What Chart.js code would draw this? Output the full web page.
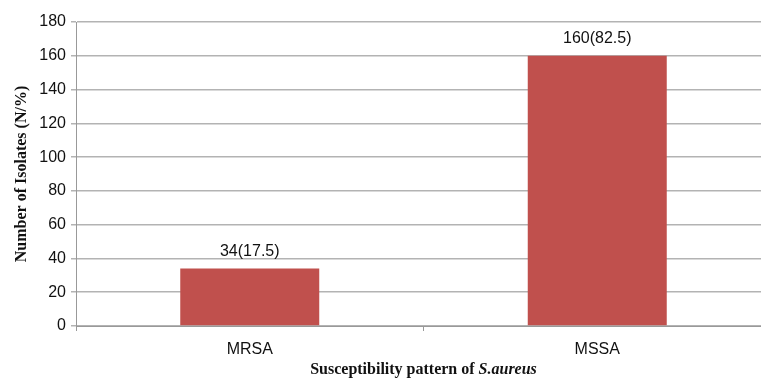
<!DOCTYPE html>
<html><head><meta charset="utf-8">
<script src="https://cdn.jsdelivr.net/npm/chart.js@4/dist/chart.umd.min.js"></script>
<style>
html,body{margin:0;padding:0;background:#fff;overflow:hidden;width:761px;height:382px}
#wrap{position:absolute;left:0;top:0;width:771px;height:382px}
</style></head>
<body>
<div id="wrap"><canvas id="c" width="771" height="382"></canvas></div>
<script>
const categories = ["MRSA", "MSSA"];
const counts = [34, 160];
const percents = [17.5, 82.5];
const yTicks = [0, 20, 40, 60, 80, 100, 120, 140, 160, 180];
const yTitle = "Number of Isolates (N/%)";
const xTitlePlain = "Susceptibility pattern of ";
const xTitleItalic = "S.aureus";

const barLabels = {
  id: 'barLabels',
  afterDatasetsDraw(chart) {
    const ctx = chart.ctx;
    const meta = chart.getDatasetMeta(0);
    ctx.save();
    ctx.font = '16px "Liberation Sans", Arial, sans-serif';
    ctx.fillStyle = '#111';
    ctx.textAlign = 'center';
    ctx.textBaseline = 'middle';
    meta.data.forEach((bar, i) => {
      ctx.fillText(counts[i] + '(' + percents[i] + ')', bar.x, bar.y - 17);
    });
    ctx.restore();
  }
};

const xTitle = {
  id: 'xTitle',
  afterDraw(chart) {
    const ctx = chart.ctx;
    const a = chart.chartArea;
    ctx.save();
    const f1 = 'bold 16px "Liberation Serif", "Times New Roman", serif';
    const f2 = 'italic bold 16px "Liberation Serif", "Times New Roman", serif';
    ctx.font = f1; const w1 = ctx.measureText(xTitlePlain).width;
    ctx.font = f2; const w2 = ctx.measureText(xTitleItalic).width;
    const cx = (a.left + a.right) / 2;
    let x = cx - (w1 + w2) / 2;
    const y = 370;
    ctx.fillStyle = '#111';
    ctx.textBaseline = 'middle';
    ctx.textAlign = 'left';
    ctx.font = f1; ctx.fillText(xTitlePlain, x, y);
    ctx.font = f2; ctx.fillText(xTitleItalic, x + w1, y);
    ctx.restore();
  }
};

new Chart(document.getElementById('c'), {
  type: 'bar',
  data: {
    labels: categories,
    datasets: [{
      data: counts,
      backgroundColor: '#C0504D',
      borderWidth: 0,
      barPercentage: 0.4,
      categoryPercentage: 1.0
    }]
  },
  options: {
    responsive: false,
    animation: false,
    devicePixelRatio: 1,
    layout: { padding: { top: 22, left: 0, right: 0, bottom: 0 } },
    plugins: { legend: { display: false }, tooltip: { enabled: false } },
    scales: {
      x: {
        afterFit(s) { s.height = 56; },
        grid: { offset: true, drawOnChartArea: false, tickLength: 5, color: '#999' },
        border: { color: '#999', width: 1 },
        ticks: { color: '#111', font: { family: '"Liberation Sans", Arial, sans-serif', size: 16 }, padding: 9 }
      },
      y: {
        min: 0, max: 180,
        afterFit(s) { s.width = 76; },
        afterBuildTicks(s) { s.ticks = yTicks.map(v => ({ value: v })); },
        grid: { color: '#b3b3b3', tickLength: 5, lineWidth: 1.5 },
        border: { color: '#999', width: 1 },
        ticks: { color: '#111', font: { family: '"Liberation Sans", Arial, sans-serif', size: 16 }, padding: 5 },
        title: {
          display: true, text: yTitle, color: '#111',
          font: { family: '"Liberation Serif", "Times New Roman", serif', size: 16, weight: 'bold' },
          padding: { top: 12, bottom: 0 }
        }
      }
    }
  },
  plugins: [barLabels, xTitle]
});
</script>
</body></html>
